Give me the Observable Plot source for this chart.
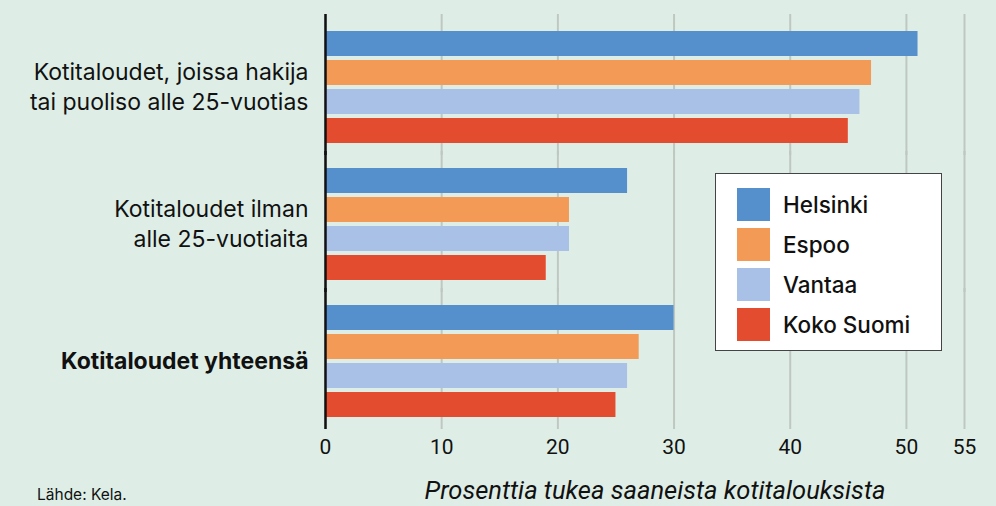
<!DOCTYPE html>
<html>
<head>
<meta charset="utf-8">
<script src="https://cdn.jsdelivr.net/npm/d3@7"></script>
<script src="https://cdn.jsdelivr.net/npm/@observablehq/plot@0.6"></script>
<style>
  html, body { margin: 0; padding: 0; background: #deeee6; }
  #wrap { position: relative; width: 996px; height: 506px; background: #deeee6; overflow: hidden; font-family: Roboto, sans-serif; color: #111; }
  #chart svg { display: block; }
  #legend { position: absolute; left: 715px; top: 173px; width: 225px; height: 176px; background: #fff; border: 1.5px solid #444; box-sizing: content-box; }
  .item { position: absolute; left: 21px; height: 33px; display: flex; align-items: center; }
  .sw { width: 33px; height: 33px; margin-right: 13px; }
  .lab { font-family: Inter, sans-serif; font-size: 22.5px; font-weight: 500; color: #111; }
  #xtitle { position: absolute; left: 655px; top: 475px; transform: translateX(-50%); font-size: 25.5px; font-style: italic; white-space: nowrap; }
  #source { position: absolute; left: 37px; top: 485px; font-family: Inter, sans-serif; font-size: 15.5px; line-height: 19px; white-space: nowrap; }
</style>
</head>
<body>
<div id="wrap">
  <div id="chart"></div>
  <div id="legend"></div>
  <div id="xtitle"></div>
  <div id="source"></div>
</div>
<script>
// ---- data ----
const groups = ["hakija25", "ilman25", "yhteensa"];
const groupLabels = [
  "Kotitaloudet, joissa hakija\ntai puoliso alle 25-vuotias",
  "Kotitaloudet ilman\nalle 25-vuotiaita",
  "Kotitaloudet yhteensä"
];
const series = ["Helsinki", "Espoo", "Vantaa", "Koko Suomi"];
const helsinki = [51, 26, 30];
const espoo = [47, 21, 27];
const vantaa = [46, 21, 26];
const kokoSuomi = [45, 19, 25];
const colors = ["#5590cd", "#f49a57", "#a9c1e6", "#e34c2f"];
const xTicks = [0, 10, 20, 30, 40, 50, 55];
const xTitle = "Prosenttia tukea saaneista kotitalouksista";
const source = "Lähde: Kela.";

const valuesBySeries = [helsinki, espoo, vantaa, kokoSuomi];
const rows = [];
groups.forEach((g, gi) => {
  series.forEach((s, si) => rows.push({group: g, series: s, value: valuesBySeries[si][gi]}));
});
const labelOf = Object.fromEntries(groups.map((g, i) => [g, groupLabels[i]]));
const lastGroup = groups[groups.length - 1];

const W = 996, H = 506;
const chart = Plot.plot({
  width: W,
  height: H,
  marginLeft: 325,
  marginRight: 32,
  marginTop: 13,
  marginBottom: 76,
  style: {fontFamily: "Roboto, sans-serif", background: "transparent", color: "#111"},
  x: {domain: [0, 55], axis: null},
  y: {domain: series, axis: null, paddingInner: 4 / 29, paddingOuter: 0},
  fy: {domain: groups, axis: null, paddingInner: 0.18, paddingOuter: 0.11, align: 0.6},
  color: {domain: series, range: colors},
  marks: [
    Plot.ruleX(xTicks, {x: d => d, stroke: "#bfc7c2", strokeWidth: 2, insetTop: -17, insetBottom: -12}),
    Plot.barX(rows, {fy: "group", y: "series", x: "value", fill: "series"}),
    Plot.ruleX([0], {x: d => d, stroke: "#111", strokeWidth: 2.5, insetTop: -17, insetBottom: -12}),
    Plot.text(xTicks, {x: d => d, fy: () => lastGroup, text: d => String(d), frameAnchor: "bottom", dy: 36, fontSize: 21, fill: "#111"}),
    Plot.text(groups.slice(0, 2), {fy: d => d, text: d => labelOf[d], frameAnchor: "left", dx: -17, dy: -2, textAnchor: "end", lineHeight: 1.3, fontSize: 23, fontFamily: "Inter, sans-serif", fill: "#111"}),
    Plot.text(groups.slice(2), {fy: d => d, text: d => labelOf[d], frameAnchor: "left", dx: -17, textAnchor: "end", fontSize: 23, fontFamily: "Inter, sans-serif", fontWeight: "bold", fill: "#111"})
  ]
});
document.getElementById("chart").appendChild(chart);

// legend
const legend = document.getElementById("legend");
series.forEach((s, i) => {
  const item = document.createElement("div");
  item.className = "item";
  item.style.top = (14 + i * 40) + "px";
  const sw = document.createElement("div");
  sw.className = "sw";
  sw.style.background = colors[i];
  const lab = document.createElement("span");
  lab.className = "lab";
  lab.textContent = s;
  item.appendChild(sw);
  item.appendChild(lab);
  legend.appendChild(item);
});
document.getElementById("xtitle").textContent = xTitle;
document.getElementById("source").textContent = source;
</script>
</body>
</html>
